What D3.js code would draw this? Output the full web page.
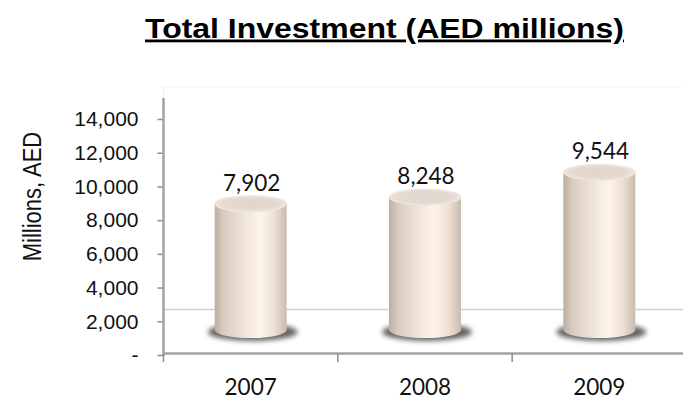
<!DOCTYPE html>
<html>
<head>
<meta charset="utf-8">
<script src="https://cdn.jsdelivr.net/npm/d3@7"></script>
<style>
  html, body { margin: 0; padding: 0; background: #fff; }
  svg { display: block; }
</style>
</head>
<body>
<svg id="chart" width="683" height="399"></svg>
<script>
// Total investment per year, AED millions
const years = ["2007", "2008", "2009"];
const investment = [7902, 8248, 9544];
const yTicks = [0, 2000, 4000, 6000, 8000, 10000, 12000, 14000];
const chartTitle = "Total Investment (AED millions)";
const axisTitle = "Millions,  AED";

const width = 683, height = 399;
const plot = { left: 163.5, right: 686.5, top: 87, bottom: 355 };
const axisTop = 119;      // position of the highest value tick
const floorLine = 309.5;  // back edge of the 3-D floor
const baseY = 330;        // centre of each cylinder's base ellipse

const svg = d3.select("#chart");
const defs = svg.append("defs");

// cylinder body shading, left to right
const body = defs.append("linearGradient").attr("id", "cylBody")
  .attr("x1", "0%").attr("x2", "100%").attr("y1", "0%").attr("y2", "0%");
[["0%", "#bcaea0"], ["12%", "#d8cbbe"], ["40%", "#efe3d8"], ["62%", "#fdf4e8"],
 ["82%", "#efe2d5"], ["100%", "#c9bbad"]]
  .forEach(([o, c]) => body.append("stop").attr("offset", o).attr("stop-color", c));

const cap = defs.append("radialGradient").attr("id", "cylCap")
  .attr("cx", "50%").attr("cy", "50%").attr("r", "55%");
[["0%", "#e0d5cd"], ["70%", "#e5dad2"], ["100%", "#f2ebe4"]]
  .forEach(([o, c]) => cap.append("stop").attr("offset", o).attr("stop-color", c));

defs.append("filter").attr("id", "soft").attr("x", "-30%").attr("y", "-60%")
  .attr("width", "160%").attr("height", "220%")
  .append("feGaussianBlur").attr("stdDeviation", 2.6);

// scales: the value axis, and the deeper plane the cylinders stand in
const x = d3.scaleBand().domain(years).range([plot.left, plot.right]).padding(0);
const y = d3.scaleLinear().domain([0, 14000]).range([plot.bottom, axisTop]);
const yBar = d3.scaleLinear().domain([0, 14000]).range([plot.bottom, plot.top]);

// title
svg.append("text")
  .attr("x", 145).attr("y", 37.5)
  .attr("textLength", 479)
  .attr("lengthAdjust", "spacingAndGlyphs")
  .style("font-family", "'Liberation Sans', Arial, sans-serif")
  .style("font-weight", "bold")
  .style("font-size", "28px")
  .style("text-decoration", "underline")
  .text(chartTitle);

// faint plot-area frame
svg.append("line")
  .attr("x1", plot.left).attr("x2", width).attr("y1", plot.top).attr("y2", plot.top)
  .attr("stroke", "#f3f3f3").attr("stroke-width", 1);
svg.append("line")
  .attr("x1", plot.left).attr("x2", plot.left).attr("y1", plot.top).attr("y2", 98)
  .attr("stroke", "#f0f0f0").attr("stroke-width", 1);

// floor back edge
svg.append("line")
  .attr("x1", plot.left).attr("x2", width).attr("y1", floorLine).attr("y2", floorLine)
  .attr("stroke", "#d2d2d2").attr("stroke-width", 1.5);

// value axis
const yAxis = d3.axisLeft(y)
  .tickValues(yTicks)
  .tickSize(6)
  .tickPadding(19)
  .tickFormat(d => d === 0 ? "-" : d3.format(",")(d));
const gy = svg.append("g").attr("transform", `translate(${plot.left},0)`).call(yAxis);
gy.select(".domain").remove();
gy.selectAll(".tick line").attr("stroke", "#8c8c8c").attr("stroke-width", 1.5);
gy.selectAll(".tick text")
  .style("font-family", "'Liberation Sans', Arial, sans-serif")
  .style("font-size", "21px")
  .attr("fill", "#111");
svg.append("line")
  .attr("x1", plot.left).attr("x2", plot.left).attr("y1", 98).attr("y2", plot.bottom + 1)
  .attr("stroke", "#a3a3a3").attr("stroke-width", 2.5);

// category axis
const xAxis = d3.axisBottom(x).tickSize(0).tickPadding(0).tickFormat("");
const gx = svg.append("g").attr("transform", `translate(0,${plot.bottom - 1.5})`).call(xAxis);
gx.select(".domain").remove();
svg.append("line")
  .attr("x1", plot.left).attr("x2", width).attr("y1", plot.bottom - 1.5).attr("y2", plot.bottom - 1.5)
  .attr("stroke", "#a3a3a3").attr("stroke-width", 2.5);
svg.append("g").selectAll("line")
  .data(years.map(d => x(d)))
  .join("line")
  .attr("x1", d => d).attr("x2", d => d)
  .attr("y1", plot.bottom - 1).attr("y2", plot.bottom + 7)
  .attr("stroke", "#8c8c8c").attr("stroke-width", 1.5);
svg.append("g").selectAll("text")
  .data(years)
  .join("text")
  .attr("x", d => x(d) + x.bandwidth() / 2)
  .attr("y", 394.5)
  .attr("text-anchor", "middle")
  .style("font-family", "Lato, 'Open Sans', sans-serif")
  .style("font-size", "22.5px")
  .attr("fill", "#111")
  .text(d => d);

// axis title
svg.append("text")
  .attr("transform", "translate(40.5,196.5) rotate(-90) scale(1,1.2)")
  .attr("text-anchor", "middle")
  .style("font-family", "'Liberation Sans', Arial, sans-serif")
  .style("font-size", "22px")
  .attr("fill", "#111")
  .text(axisTitle);

// cylinders
const rx = 36, ry = 8;
const bars = svg.append("g").selectAll("g")
  .data(years.map((yr, i) => ({ yr, v: investment[i] })))
  .join("g")
  .attr("transform", d => `translate(${x(d.yr) + x.bandwidth() / 2},0)`);

bars.append("ellipse")
  .attr("cx", 2).attr("cy", baseY + 2).attr("rx", rx + 9).attr("ry", ry + 1)
  .attr("fill", "#4a4a4a").attr("opacity", 0.85)
  .attr("filter", "url(#soft)");

bars.append("path")
  .attr("d", d => {
    const t = yBar(d.v);
    return `M${-rx},${t} L${-rx},${baseY} A${rx},${ry} 0 0 0 ${rx},${baseY} L${rx},${t} Z`;
  })
  .attr("fill", "url(#cylBody)");

bars.append("ellipse")
  .attr("cx", 0).attr("cy", d => yBar(d.v)).attr("rx", rx).attr("ry", ry)
  .attr("fill", "url(#cylCap)")
  .attr("stroke", "#efe6de").attr("stroke-width", 1);

// value labels
bars.append("text")
  .attr("x", 1)
  .attr("y", d => yBar(d.v) - ry - 5)
  .attr("text-anchor", "middle")
  .style("font-family", "Lato, 'Open Sans', sans-serif")
  .style("font-size", "22.5px")
  .attr("fill", "#111")
  .text(d => d3.format(",")(d.v));
</script>
</body>
</html>
